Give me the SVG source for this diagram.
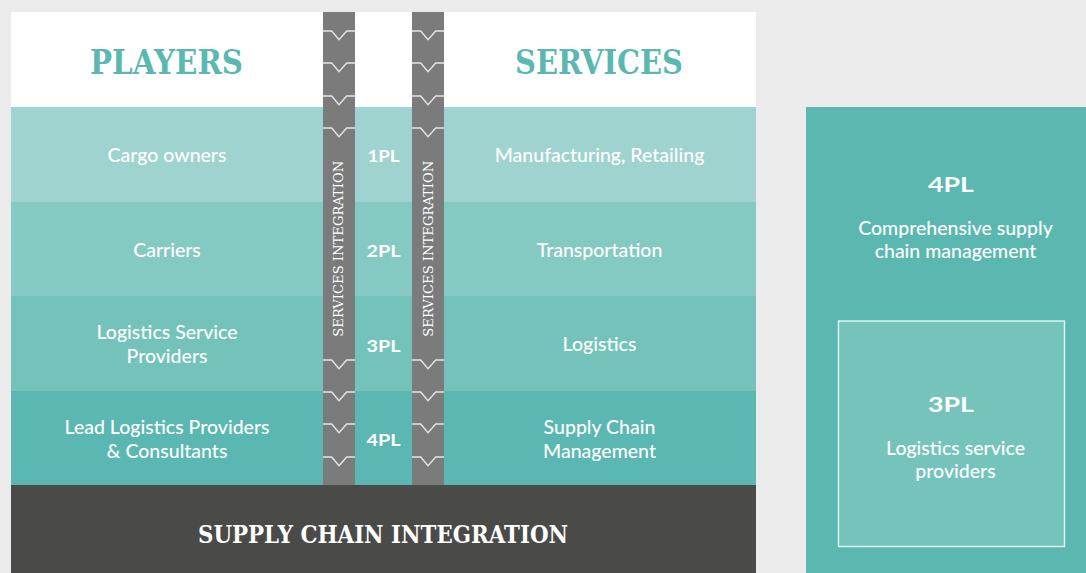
<svg xmlns="http://www.w3.org/2000/svg" width="1086" height="573" viewBox="0 0 1086 573">
  <style>
    .head { font-family: "DejaVu Serif", "Liberation Serif", serif; font-weight: bold; fill: #5bb8b1; text-anchor: middle; }
    .slab { font-family: "DejaVu Serif", "Liberation Serif", serif; fill: #ffffff; text-anchor: middle; }
    .lbl { font-family: Lato, "Open Sans", "Liberation Sans", sans-serif; font-size: 19.5px; font-weight: 500; fill: #ffffff; text-anchor: middle; }
    .pl { font-family: Lato, "Open Sans", "Liberation Sans", sans-serif; font-weight: bold; fill: #ffffff; text-anchor: middle; }
    .bar { fill: #7b7b7b; }
    .chev { fill: none; stroke: #e6e6e6; stroke-width: 1.4; }
  </style>
  <defs>
    <path id="chev" class="chev" d="M0,0 H8.7 L16,8.7 L23.7,0 H32"/>
    <g id="chevSet">
      <use href="#chev" y="31"/>
      <use href="#chev" y="63"/>
      <use href="#chev" y="96"/>
      <use href="#chev" y="128"/>
      <use href="#chev" y="360"/>
      <use href="#chev" y="392"/>
      <use href="#chev" y="424"/>
      <use href="#chev" y="457"/>
    </g>
  </defs>

  <!-- page background -->
  <rect x="0" y="0" width="1086" height="573" fill="#ebebeb"/>

  <!-- left panel: header and four bands -->
  <g id="header">
    <rect x="11" y="12" width="745" height="95" fill="#ffffff"/>
    <text class="head" x="166.5" y="73.5" font-size="33" textLength="153" lengthAdjust="spacingAndGlyphs">PLAYERS</text>
    <text class="head" x="599" y="73.5" font-size="33" textLength="168" lengthAdjust="spacingAndGlyphs">SERVICES</text>
  </g>

  <g id="row-1pl">
    <rect x="11" y="107" width="745" height="95" fill="#9fd3d0"/>
    <text class="lbl" x="167" y="161.5">Cargo owners</text>
    <text class="pl" x="383.5" y="161.5" font-size="17" textLength="32" lengthAdjust="spacingAndGlyphs">1PL</text>
    <text class="lbl" x="599.5" y="161.5">Manufacturing, Retailing</text>
  </g>

  <g id="row-2pl">
    <rect x="11" y="202" width="745" height="94" fill="#85c9c3"/>
    <text class="lbl" x="167" y="256.5">Carriers</text>
    <text class="pl" x="383.5" y="256.5" font-size="17" textLength="34" lengthAdjust="spacingAndGlyphs">2PL</text>
    <text class="lbl" x="599.5" y="256.5">Transportation</text>
  </g>

  <g id="row-3pl">
    <rect x="11" y="296" width="745" height="95" fill="#74c3bb"/>
    <text class="lbl" x="167" y="339">Logistics Service</text>
    <text class="lbl" x="167" y="363">Providers</text>
    <text class="pl" x="383.5" y="351.5" font-size="17" textLength="34" lengthAdjust="spacingAndGlyphs">3PL</text>
    <text class="lbl" x="599.5" y="351">Logistics</text>
  </g>

  <g id="row-4pl">
    <rect x="11" y="391" width="745" height="94" fill="#5bb7b1"/>
    <text class="lbl" x="167" y="434">Lead Logistics Providers</text>
    <text class="lbl" x="167" y="458">&amp; Consultants</text>
    <text class="pl" x="383.5" y="446" font-size="17" textLength="34" lengthAdjust="spacingAndGlyphs">4PL</text>
    <text class="lbl" x="599.5" y="434">Supply Chain</text>
    <text class="lbl" x="599.5" y="458">Management</text>
  </g>

  <!-- services integration bars with downward chevrons -->
  <g id="bar-left">
    <rect class="bar" x="323" y="12" width="32" height="473"/>
    <use href="#chevSet" x="323"/>
    <text class="slab" transform="translate(343.3 248.7) rotate(-90)" font-size="12.5" fill="#f2f2f2" textLength="176" lengthAdjust="spacingAndGlyphs">SERVICES INTEGRATION</text>
  </g>
  <g id="bar-right">
    <rect class="bar" x="412" y="12" width="32" height="473"/>
    <use href="#chevSet" x="412"/>
    <text class="slab" transform="translate(432.7 248.7) rotate(-90)" font-size="12.5" fill="#f2f2f2" textLength="176" lengthAdjust="spacingAndGlyphs">SERVICES INTEGRATION</text>
  </g>

  <!-- base bar -->
  <g id="supply-chain-integration">
    <rect x="11" y="485" width="745" height="88" fill="#4a4a49"/>
    <text class="slab" x="383" y="542.5" font-size="24" font-weight="bold" textLength="370" lengthAdjust="spacingAndGlyphs">SUPPLY CHAIN INTEGRATION</text>
  </g>

  <!-- right panel: 4PL containing 3PL -->
  <g id="panel-4pl">
    <rect x="806" y="107" width="280" height="466" fill="#5bb8b1"/>
    <text class="pl" x="951" y="191.5" font-size="21" textLength="46" lengthAdjust="spacingAndGlyphs">4PL</text>
    <text class="lbl" x="955.5" y="235">Comprehensive supply</text>
    <text class="lbl" x="955.5" y="258">chain management</text>
  </g>
  <g id="panel-3pl">
    <rect x="838.5" y="321" width="226" height="225.5" fill="#74c4bc" stroke="#ffffff" stroke-opacity="0.85" stroke-width="1.4"/>
    <text class="pl" x="951" y="411.5" font-size="21" textLength="46" lengthAdjust="spacingAndGlyphs">3PL</text>
    <text class="lbl" x="955.5" y="455">Logistics service</text>
    <text class="lbl" x="955.5" y="478">providers</text>
  </g>
</svg>
